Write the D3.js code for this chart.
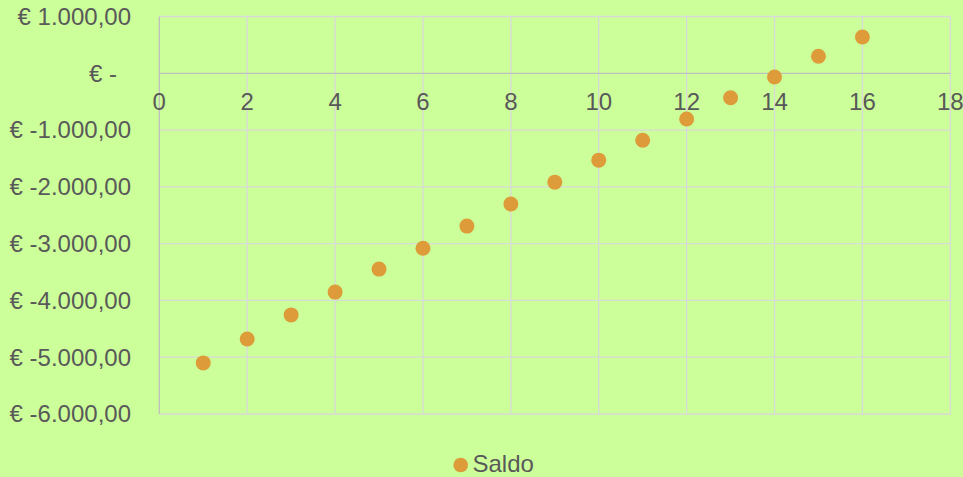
<!DOCTYPE html>
<html>
<head>
<meta charset="utf-8">
<script src="https://cdn.jsdelivr.net/npm/d3@7"></script>
<style>
  html, body { margin: 0; padding: 0; background: #CCFF99; }
  svg { display: block; }
  text { font-family: Arial, "Liberation Sans", sans-serif; fill: #595959; }
</style>
</head>
<body>
<svg id="chart" width="963" height="477"></svg>
<script>
const periods = [1, 2, 3, 4, 5, 6, 7, 8, 9, 10, 11, 12, 13, 14, 15, 16];
const saldo = [-5100, -4678, -4255, -3853, -3448, -3082, -2691, -2301, -1917, -1530, -1178, -805, -432, -65, 300, 640];
const xTicks = [0, 2, 4, 6, 8, 10, 12, 14, 16, 18];
const yTicks = [1000, 0, -1000, -2000, -3000, -4000, -5000, -6000];
const yTickLabels = ["€ 1.000,00", "€ -", "€ -1.000,00", "€ -2.000,00", "€ -3.000,00", "€ -4.000,00", "€ -5.000,00", "€ -6.000,00"];
const seriesName = "Saldo";

const svg = d3.select("#chart");
const W = 963, H = 477;
svg.append("rect").attr("width", W).attr("height", H).attr("fill", "#CCFF99");

const plot = { left: 159.3, right: 950.3, top: 16.5, bottom: 414 };
const x = d3.scaleLinear().domain([0, 18]).range([plot.left, plot.right]);
const y = d3.scaleLinear().domain([-6000, 1000]).range([plot.bottom, plot.top]);

// vertical gridlines
const grid = svg.append("g");
grid.selectAll("line.v").data(xTicks.filter(d => d !== 0)).join("line")
  .attr("x1", d => x(d)).attr("x2", d => x(d))
  .attr("y1", plot.top).attr("y2", plot.bottom)
  .attr("stroke", "#D9D9D9").attr("stroke-width", 1.3);
// horizontal gridlines
grid.selectAll("line.h").data(yTicks.filter(d => d !== 0)).join("line")
  .attr("x1", plot.left).attr("x2", plot.right)
  .attr("y1", d => y(d)).attr("y2", d => y(d))
  .attr("stroke", "#D9D9D9").attr("stroke-width", 1.3);

// axes lines
svg.append("line")
  .attr("x1", x(0)).attr("x2", x(0))
  .attr("y1", plot.top).attr("y2", plot.bottom)
  .attr("stroke", "#BFBFBF").attr("stroke-width", 1.3);
svg.append("line")
  .attr("x1", plot.left).attr("x2", plot.right)
  .attr("y1", y(0)).attr("y2", y(0))
  .attr("stroke", "#BFBFBF").attr("stroke-width", 1.3);

// y tick labels
svg.append("g").selectAll("text").data(yTicks).join("text")
  .attr("x", d => d === 0 ? 117 : 131)
  .attr("y", d => y(d))
  .attr("dy", "0.35em")
  .attr("text-anchor", "end")
  .attr("font-size", 24)
  .text((d, i) => yTickLabels[i]);

// x tick labels (axis crosses at 0)
svg.append("g").selectAll("text").data(xTicks).join("text")
  .attr("x", d => x(d))
  .attr("y", y(0) + 37)
  .attr("text-anchor", "middle")
  .attr("font-size", 24)
  .text(d => d);

// points
svg.append("g").selectAll("circle").data(periods).join("circle")
  .attr("cx", d => x(d))
  .attr("cy", (d, i) => y(saldo[i]))
  .attr("r", 7.5)
  .attr("fill", "#DE9B3A");

// legend
const lg = svg.append("g");
lg.append("circle").attr("cx", 460.7).attr("cy", 465).attr("r", 7.3).attr("fill", "#DE9B3A");
lg.append("text").attr("x", 472.5).attr("y", 472).attr("font-size", 24).text(seriesName);
</script>
</body>
</html>
